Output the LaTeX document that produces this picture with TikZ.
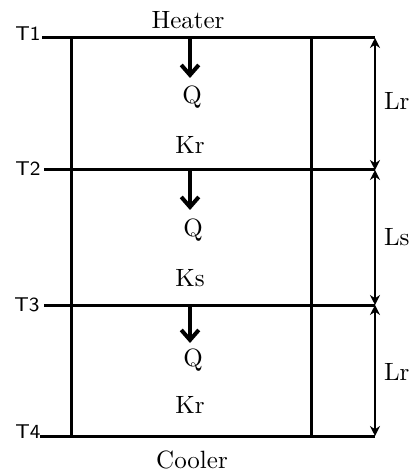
\documentclass[tikz,border=0pt]{standalone}
\usepackage{tikz}
\usetikzlibrary{arrows.meta, positioning}

\begin{document}
\begin{tikzpicture}[x=0.4pt, y=-0.4pt,
    wall/.style={line width=1.2pt},
    heat/.style={line width=1.4pt, -{Straight Barb[length=4pt, width=7pt, line width=1.6pt]}},
    dim/.style={line width=1.1pt, {Stealth[length=4pt, width=4pt]}-{Stealth[length=4pt, width=4pt]}},
    templabel/.style={font=\sffamily\footnotesize, inner sep=1pt},
    txt/.style={font=\normalsize, inner sep=1pt}]
    \useasboundingbox (0,0) rectangle (409,471);

    % layer boundaries
    \coordinate (t1) at (42,38);  \coordinate (d1) at (375,38);
    \coordinate (t2) at (44,170); \coordinate (d2) at (375,170);
    \coordinate (t3) at (44,305); \coordinate (d3) at (375,305);
    \coordinate (t4) at (40,436); \coordinate (d4) at (375,436);
    \draw[wall] (t1) -- (d1);
    \draw[wall] (t2) -- (d2);
    \draw[wall] (t3) -- (d3);
    \draw[wall] (t4) -- (d4);

    \node[templabel] (T1) at (28,34) {T1};
    \node[templabel] (T2) at (28,169) {T2};
    \node[templabel] (T3) at (27,305) {T3};
    \node[templabel] (T4) at (28,432) {T4};

    % side walls
    \coordinate (w1a) at (71,38);  \coordinate (w1b) at (71,436);
    \coordinate (w2a) at (311,38); \coordinate (w2b) at (311,436);
    \draw[wall] (w1a) -- (w1b);
    \draw[wall] (w2a) -- (w2b);

    \node[txt] (heater) at (188,20) {Heater};
    \node[txt] (cooler) at (192,460) {Cooler};

    % heat flow
    \coordinate (q1a) at (190,38);  \coordinate (q1b) at (190,78);
    \coordinate (q2a) at (190,170); \coordinate (q2b) at (190,210);
    \coordinate (q3a) at (190,305); \coordinate (q3b) at (190,343);
    \draw[heat] (q1a) -- (q1b);
    \draw[heat] (q2a) -- (q2b);
    \draw[heat] (q3a) -- (q3b);

    \node[txt] (Q1) at (192,97) {Q};
    \node[txt] (K1) at (190,145) {Kr};
    \node[txt] (Q2) at (193,230) {Q};
    \node[txt] (K2) at (190,278) {Ks};
    \node[txt] (Q3) at (193,360) {Q};
    \node[txt] (K3) at (190,405) {Kr};

    % thicknesses
    \draw[dim] (d1) -- (d2);
    \draw[dim] (d2) -- (d3);
    \draw[dim] (d3) -- (d4);
    \node[txt, anchor=west] (L1) at (381,101) {Lr};
    \node[txt, anchor=west] (L2) at (381,237) {Ls};
    \node[txt, anchor=west] (L3) at (381,372) {Lr};
\end{tikzpicture}
\end{document}
